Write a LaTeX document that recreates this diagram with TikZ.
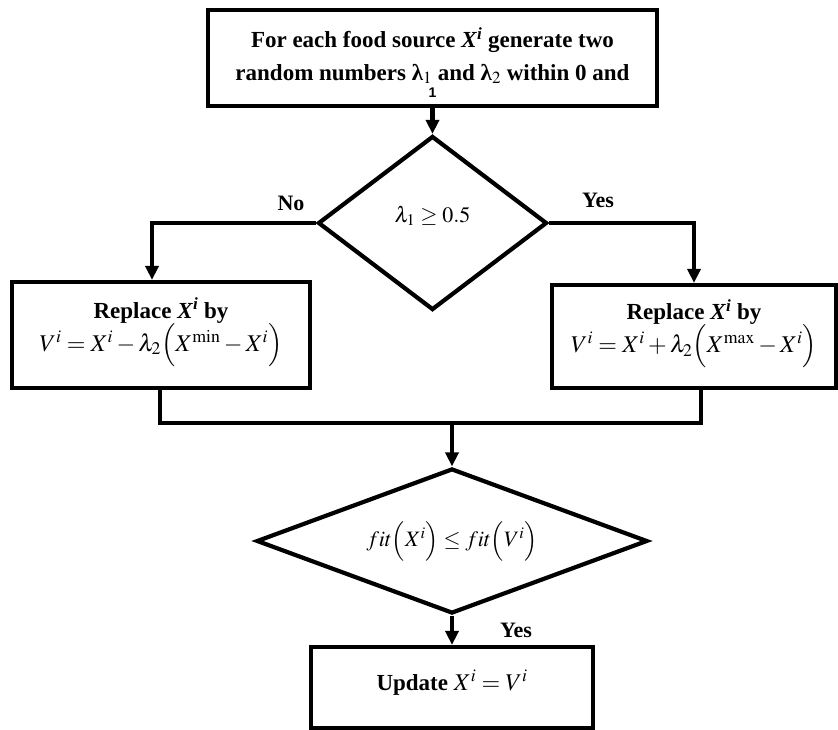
\documentclass[tikz,border=0pt]{standalone}
\usepackage{mathptmx}
\usepackage[no-math]{fontspec}
\setmainfont{Liberation Serif}
\newfontfamily\onefont{Liberation Sans}
\usetikzlibrary{shapes.geometric, positioning, arrows.meta}

\begin{document}
\begin{tikzpicture}[>={Triangle[length=14pt,width=13pt]},on grid,x=1pt,y=-1pt,line width=4.2pt]
\tikzstyle{box}=[rectangle,draw,inner sep=0pt,align=center,font=\fontsize{23}{33}\selectfont\bfseries]
\tikzstyle{decision}=[diamond,draw,inner sep=0pt,font=\fontsize{22}{26}\selectfont]
\tikzstyle{lbl}=[font=\fontsize{22}{26}\selectfont\bfseries]
\newcommand{\mathline}{\fontsize{24}{33}\selectfont\mdseries}

\useasboundingbox (0,0) rectangle (838,729);

%--- nodes ---
\node[box, minimum width=449pt, minimum height=96pt] (init) at (432.5,58)
  {\mbox{}\\[-4pt]
   For each food source \textit{X}\textsuperscript{\textit{i}} generate two\\
   random numbers λ$_1$ and λ$_2$ within 0 and\\[-16pt]
   {\onefont\fontsize{14}{16}\selectfont 1}};
\node[decision, aspect=1.3, minimum width=229pt, minimum height=174pt] (dec1) [below=165pt of init]
  {\raisebox{18pt}{$\lambda_1 \geq 0.5$}};
\node[box, minimum width=298pt, minimum height=106pt] (lbox) [below left=112pt and 271.5pt of dec1]
  {Replace \textit{X}\textsuperscript{\textit{i}} by\\
   \mathline $V^i = X^i - \lambda_2\Bigl(X^{\min} - X^i\Bigr)$\\[-12pt]\mbox{}};
\node[box, minimum width=284pt, minimum height=103pt] (rbox) [below right=113.5pt and 261.5pt of dec1]
  {Replace \textit{X}\textsuperscript{\textit{i}} by\\
   \mathline $V^i = X^i + \lambda_2\Bigl(X^{\max} - X^i\Bigr)$\\[-12pt]\mbox{}};
\node[decision, aspect=2.7, minimum width=391pt, minimum height=145pt] (dec2) [below right=318pt and 19.5pt of dec1]
  {$fit\Bigl(X^i\Bigr) \leq fit\Bigl(V^i\Bigr)$};
\node[box, minimum width=282pt, minimum height=81pt] (fin) [below=146.5pt of dec2]
  {Update \mathline $X^i = V^i$\\[-19pt]\mbox{}};
\coordinate (join) at (452,423);

%--- labels ---
\node[lbl] (no) at (291,203) {No};
\node[lbl] (yes1) at (598,200) {Yes};
\node[lbl] (yes2) at (516,630) {Yes};

%--- connectors ---
\draw[->] (init) -- (dec1);
\draw[->] (dec1.west) -| ([xshift=-9pt]lbox.north);
\draw[->] (dec1.east) -| (rbox.north);
\draw ([xshift=-1pt]lbox.south) |- (join) -| ([xshift=7pt]rbox.south);
\draw[->] (join) -- (dec2);
\draw[->] (dec2) -- (fin);

\end{tikzpicture}
\end{document}
